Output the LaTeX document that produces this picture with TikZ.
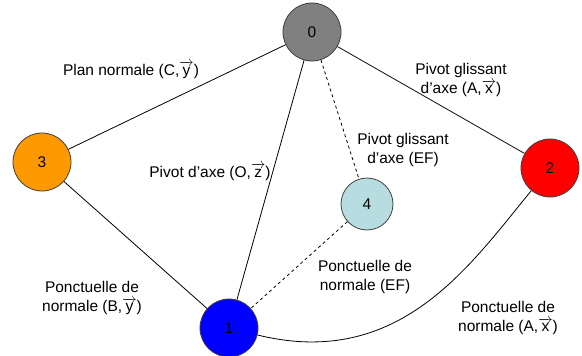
\documentclass[tikz,border=0pt]{standalone}
\usepackage{amsmath}
\usepackage{fontspec}
\setmainfont{Liberation Sans}

\definecolor{pieceorange}{RGB}{255,153,0}
\definecolor{piecebleu}{RGB}{183,221,224}

\begin{document}
\begin{tikzpicture}[x=1pt, y=-1pt, font=\fontsize{15.5}{18.5}\selectfont,
    piece/.style={circle, draw=black!75, line width=0.8pt, minimum size=58pt, inner sep=0pt},
    liaison/.style={line width=0.8pt},
    nom/.style={align=center, inner sep=0pt}]
    \useasboundingbox (0,0) rectangle (582,356);

    \node [piece, fill=gray] (n0) at (312,32) {0};
    \node [piece, fill=blue] (n1) at (229,328) {1};
    \node [piece, fill=red] (n2) at (550,168) {2};
    \node [piece, fill=pieceorange] (n3) at (42,162) {3};
    \node [piece, fill=piecebleu, minimum size=52pt] (n4) at (367,204) {4};

    \draw[liaison] (n0) -- (n3);
    \draw[liaison] (n0) -- (n1);
    \draw[liaison] (n0) -- (n2);
    \draw[liaison, dashed] (n0) -- (n4);
    \draw[liaison] (n3) -- (n1);
    \draw[liaison, dashed] (n4) -- (n1);
    \draw[liaison] (n1) .. controls (400,370) and (470,265) .. (n2);

    \node [nom] (l03) at (131,70) {Plan normale (C,$\overrightarrow{\text{y}}$)};
    \node [nom] (l01) at (210,172) {Pivot d'axe (O,$\overrightarrow{\text{z}}$)};
    \node [nom] (l02) at (461,80) {Pivot glissant\\d'axe (A,$\overrightarrow{\text{x}}$)};
    \node [nom] (l04) at (403,150) {Pivot glissant\\d'axe (EF)};
    \node [nom] (l31) at (92,298) {Ponctuelle de\\normale (B,$\overrightarrow{\text{y}}$)};
    \node [nom] (l41) at (365,277) {Ponctuelle de\\normale (EF)};
    \node [nom] (l12) at (508,318) {Ponctuelle de\\normale (A,$\overrightarrow{\text{x}}$)};
\end{tikzpicture}
\end{document}
